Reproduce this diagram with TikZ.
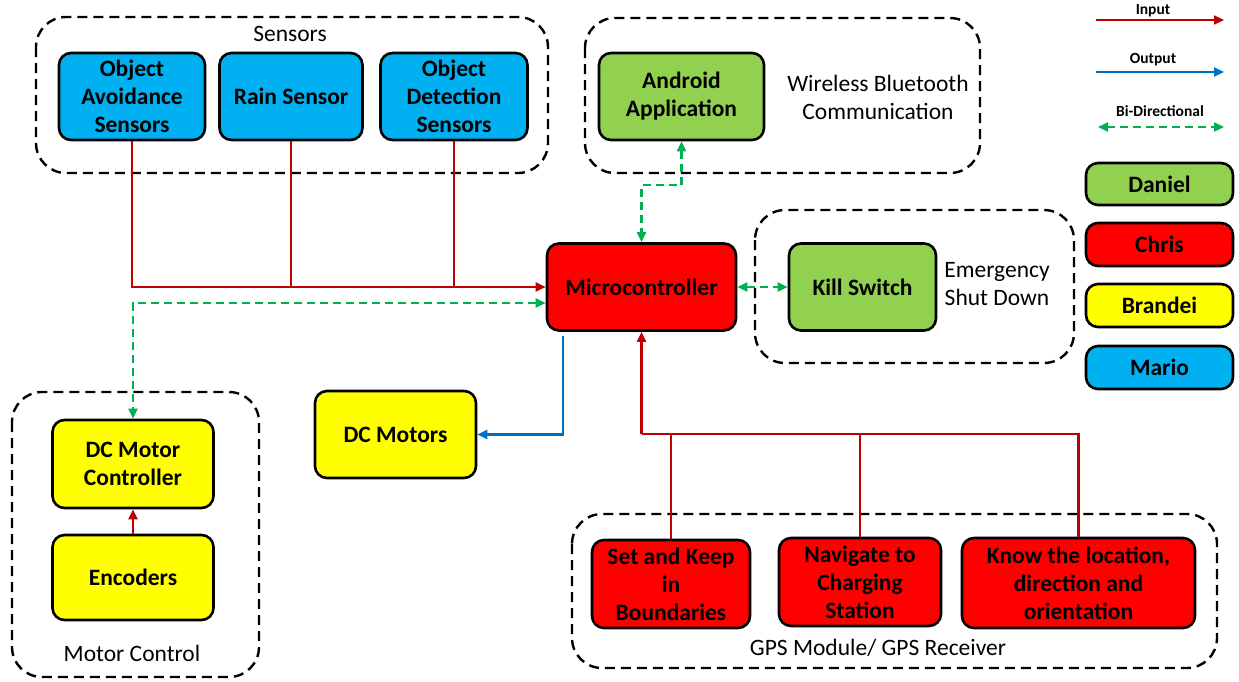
\documentclass[tikz,border=0pt]{standalone}
\usepackage{fontspec}
\setmainfont{Carlito}
\usetikzlibrary{arrows.meta}
\definecolor{cblue}{HTML}{00B0F0}
\definecolor{cgreen}{HTML}{92D050}
\definecolor{cred}{HTML}{FF0000}
\definecolor{cyellow}{HTML}{FFFF00}
\definecolor{lred}{HTML}{C00000}
\definecolor{lblue}{HTML}{0070C0}
\definecolor{lgreen}{HTML}{00B050}
\tikzset{
  blk/.style={draw=black, line width=2.6pt, rounded corners=12pt, align=center, inner sep=0pt,
    font=\bfseries\fontsize{23.5}{28}\selectfont},
  grp/.style={draw=black, line width=2.4pt, dash pattern=on 10pt off 6pt, rounded corners=30pt},
  glabel/.style={font=\fontsize{23.5}{28}\selectfont, align=center, inner sep=0pt},
  llabel/.style={font=\bfseries\fontsize{15.5}{17}\selectfont, inner sep=0pt},
  wire/.style={line width=2.2pt, lred},
  inp/.style={wire, -{Triangle[length=10pt,width=9pt]}},
  outp/.style={line width=2.2pt, lblue, -{Triangle[length=10pt,width=9pt]}},
  bid/.style={line width=2.2pt, lgreen, dash pattern=on 8pt off 5pt,
    {Triangle[length=10pt,width=9pt]}-{Triangle[length=10pt,width=9pt]}},
}
\begin{document}
\begin{tikzpicture}[x=1pt,y=-1pt]
\useasboundingbox (0,0) rectangle (1239,681);
% groups
\draw[grp] (36,17) rectangle (548,173);
\draw[grp] (585,18) rectangle (980,173);
\draw[grp] (755,210) rectangle (1074,363);
\draw[grp] (12,392) rectangle (259,677);
\draw[grp] (572,514) rectangle (1217,668);
% group labels
\node[glabel] (lsens) at (290,34) {Sensors};
\node[glabel] (lwire) at (878,97) {Wireless Bluetooth\\Communication};
\node[glabel] (lemer) at (997,284) {Emergency\\Shut Down};
\node[glabel] (lmot) at (132,653) {Motor Control};
\node[glabel] (lgps) at (878,648) {GPS Module/ GPS Receiver};
% blocks
\node[blk, fill=cblue, minimum width=146pt, minimum height=87pt] (oas) at (132,96.5) {Object\\Avoidance\\Sensors};
\node[blk, fill=cblue, minimum width=143pt, minimum height=87pt] (rain) at (291,96.5) {Rain Sensor};
\node[blk, fill=cblue, minimum width=147pt, minimum height=87pt] (ods) at (454,96.5) {Object\\Detection\\Sensors};
\node[blk, fill=cred, minimum width=189pt, minimum height=87pt] (micro) at (641.5,287) {Microcontroller};
\node[blk, fill=cgreen, minimum width=165pt, minimum height=87pt] (android) at (681.5,96.5) {Android\\Application};
\node[blk, fill=cgreen, minimum width=147pt, minimum height=87pt] (kill) at (862.5,287) {Kill Switch};
\node[blk, fill=cyellow, minimum width=161pt, minimum height=88pt] (dcmc) at (133,464) {DC Motor\\Controller};
\node[blk, fill=cyellow, minimum width=161pt, minimum height=85pt] (enc) at (133,577.5) {Encoders};
\node[blk, fill=cyellow, minimum width=161pt, minimum height=87pt] (dcm) at (395.5,434.5) {DC Motors};
\node[blk, fill=cred, minimum width=158pt, minimum height=88pt] (skb) at (671,584) {Set and Keep\\in\\Boundaries};
\node[blk, fill=cred, minimum width=162pt, minimum height=88pt] (nav) at (860,582) {Navigate to\\Charging\\Station};
\node[blk, fill=cred, minimum width=233pt, minimum height=90pt] (know) at (1078.5,583) {Know the location,\\direction and\\orientation};
% legend
\node[blk, fill=cgreen, minimum width=147pt, minimum height=42pt] (daniel) at (1159.5,184) {Daniel};
\node[blk, fill=cred, minimum width=147pt, minimum height=43pt] (chris) at (1159.5,244.5) {Chris};
\node[blk, fill=cyellow, minimum width=147pt, minimum height=43pt] (brandei) at (1159.5,305.5) {Brandei};
\node[blk, fill=cblue, minimum width=147pt, minimum height=43pt] (mario) at (1159.5,367.5) {Mario};
\node[llabel] (tin) at (1153,11) {Input};
\node[llabel] (tout) at (1153,60) {Output};
\node[llabel] (tbi) at (1160,111) {Bi-Directional};
\coordinate (in1) at (1096,20); \coordinate (in2) at (1224,20);
\coordinate (out1) at (1096,72); \coordinate (out2) at (1224,72);
\coordinate (bi1) at (1098,127); \coordinate (bi2) at (1224,127);
\draw[inp] (in1) -- (in2);
\draw[outp] (out1) -- (out2);
\draw[bid] (bi1) -- (bi2);
% connectors
\draw[inp] (oas.south) |- (micro.west);
\draw[wire] (rain.south) -- (rain.south |- micro.west);
\draw[wire] (ods.south) -- (ods.south |- micro.west);
\draw[bid] ([yshift=-16pt]micro.west) -| (dcmc.north);
\coordinate (bt) at (660,185);
\draw[bid] (android.south) |- (bt) -| (micro.north);
\draw[bid] (micro.east) -- (kill.west);
\draw[inp] (enc.north) -- (dcmc.south);
\draw[outp] ([xshift=-78.5pt,yshift=-4pt]micro.south) |- (dcm.east);
\coordinate (gj) at (641.5,434);
\draw[wire] (know.north) |- (gj);
\draw[wire] (nav.north) -- (nav.north |- gj);
\draw[wire] (skb.north) -- (skb.north |- gj);
\draw[inp] (gj) -- (micro.south);
\end{tikzpicture}
\end{document}
